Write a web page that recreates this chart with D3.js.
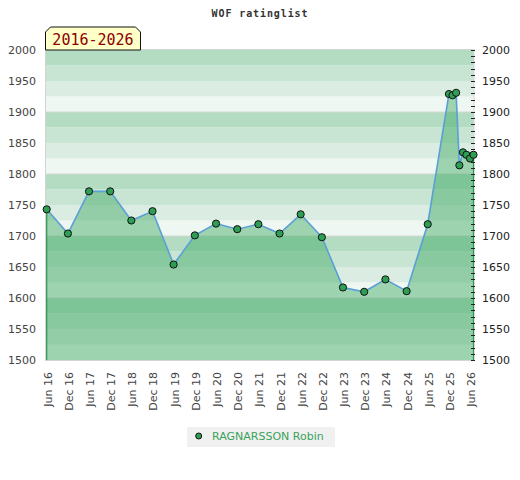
<!DOCTYPE html>
<html><head><meta charset="utf-8">
<script src="https://cdn.jsdelivr.net/npm/d3@7"></script>
<style>body{margin:0;background:#fff}svg{display:block}</style>
</head><body>
<script>
const title = "WOF ratinglist";
const periodLabel = "2016-2026";
const seriesName = "RAGNARSSON Robin";
const dates = ["2016-06","2016-12","2017-06","2017-12","2018-06","2018-12","2019-06","2019-12",
  "2020-06","2020-12","2021-06","2021-12","2022-06","2022-12","2023-06","2023-12","2024-06","2024-12",
  "2025-06","2025-12","2026-01","2026-02","2026-03","2026-04","2026-05","2026-06","2026-07"];
const ratings = [1743,1704,1772,1772,1725,1740,1654,1701,1720,1711,1719,1704,1735,1698,1617,1610,
  1630,1611,1719,1929,1927,1931,1814,1835,1831,1825,1831];
const yTicks = [1500,1550,1600,1650,1700,1750,1800,1850,1900,1950,2000];
const xTickMonths = ["2016-06","2016-12","2017-06","2017-12","2018-06","2018-12","2019-06","2019-12",
  "2020-06","2020-12","2021-06","2021-12","2022-06","2022-12","2023-06","2023-12","2024-06","2024-12",
  "2025-06","2025-12","2026-06"];
const bandColors = ["#eff7f2","#dbede2","#c8e5d3","#b3dcc3"];

(function(){
const W=520,H=480;
const parse = d3.timeParse("%Y-%m");
const data = dates.map((d,i)=>({date:parse(d), v:ratings[i]}));
const svg = d3.select("body").append("svg").attr("width",W).attr("height",H);

const pl=46, pr=473.5, pt=50, pb=360;
const x = d3.scaleTime().domain(d3.extent(data,d=>d.date)).range([pl+0.7,pr]);
const y = d3.scaleLinear().domain([1500,2000]).range([pb,pt]);

// bands
const bands = d3.range(1500,2000,25);
svg.append("g").selectAll("rect").data(bands).join("rect")
  .attr("x",pl).attr("width",pr-pl+0.5)
  .attr("y",d=>y(d+25)).attr("height",d=>y(d)-y(d+25))
  .attr("fill",d=>bandColors[((d-1500)/25)%4]);
// grid at hundreds
svg.append("g").selectAll("line").data([1600,1700,1800,1900]).join("line")
  .attr("x1",pl).attr("x2",pr).attr("y1",d=>y(d)).attr("y2",d=>y(d))
  .attr("stroke","#d8d8d8").attr("stroke-width",1);
// border
svg.append("rect").attr("x",pl-0.5).attr("y",pt-0.5).attr("width",pr-pl+1).attr("height",pb-pt+1)
  .attr("fill","none").attr("stroke","#d4d4d4");

// area
const area = d3.area().x(d=>x(d.date)).y0(y(1500)).y1(d=>y(d.v));
svg.append("path").datum(data).attr("d",area).attr("fill","rgb(65,170,102)").attr("fill-opacity",0.475);
const first=data[0], last=data[data.length-1];
[first,last].forEach(d=>{
  svg.append("line").attr("x1",x(d.date)).attr("x2",x(d.date)).attr("y1",y(d.v)).attr("y2",y(1500))
    .attr("stroke","#2f9450").attr("stroke-width",1.2);
});

// right axis minor ticks
svg.append("g").selectAll("line").data(d3.range(1500,2001,10)).join("line")
  .attr("x1",pr-2.5).attr("x2",pr+1.5).attr("y1",d=>Math.round(y(d))+0.5).attr("y2",d=>Math.round(y(d))+0.5)
  .attr("stroke","#222").attr("stroke-width",1);

// line
const line = d3.line().x(d=>x(d.date)).y(d=>y(d.v));
svg.append("path").datum(data).attr("d",line).attr("fill","none").attr("stroke","#5a9fd6").attr("stroke-width",1.6);
// points
svg.append("g").selectAll("circle").data(data).join("circle")
  .attr("cx",d=>x(d.date)).attr("cy",d=>y(d.v)).attr("r",3.6)
  .attr("fill","#2f9e55").attr("stroke","#111").attr("stroke-width",1);

// y labels
const font="DejaVu Sans, sans-serif";
svg.append("g").selectAll("text").data(yTicks).join("text")
  .attr("x",36).attr("y",d=>y(d)).attr("dy","0.36em").attr("text-anchor","end")
  .attr("font-family",font).attr("font-size",11).attr("fill","#444").text(d=>d);
svg.append("g").selectAll("text").data(yTicks).join("text")
  .attr("x",482).attr("y",d=>y(d)).attr("dy","0.36em").attr("text-anchor","start")
  .attr("font-family",font).attr("font-size",11).attr("fill","#222").text(d=>d);

// x labels
const fmt = d3.timeFormat("%b %y");
svg.append("g").selectAll("text").data(xTickMonths.map(parse)).join("text")
  .attr("transform",d=>`translate(${x(d)+1},372) rotate(-90)`)
  .attr("dy","0.36em").attr("text-anchor","end")
  .attr("font-family",font).attr("font-size",11).attr("fill","#444").text(d=>fmt(d));

// title
svg.append("text").attr("x",260).attr("y",16.5).attr("text-anchor","middle")
  .attr("font-family","DejaVu Sans Mono, monospace").attr("font-weight","bold").attr("font-size",10)
  .attr("letter-spacing",0.9).attr("fill","#333").text(title);

// period box
const bx0=45.5,bx1=140.5,by0=27,by1=50,c=5;
svg.append("path").attr("d",`M${bx0},${by1} L${bx0},${by0+c} L${bx0+c},${by0} L${bx1-c},${by0} L${bx1},${by0+c} L${bx1},${by1} Z`)
  .attr("fill","#ffffc8").attr("stroke","#111").attr("stroke-width",1);
svg.append("text").attr("x",93).attr("y",45).attr("text-anchor","middle")
  .attr("font-family","DejaVu Sans Mono, monospace").attr("font-size",15).attr("fill","#8b0000").text(periodLabel);

// legend
svg.append("rect").attr("x",187).attr("y",427).attr("width",148).attr("height",20).attr("fill","#f0f0f0");
svg.append("circle").attr("cx",198.7).attr("cy",436).attr("r",3).attr("fill","#2f9e55").attr("stroke","#111");
svg.append("text").attr("x",212).attr("y",436).attr("dy","0.36em")
  .attr("font-family",font).attr("font-size",11).attr("fill","#3aa35c").text(seriesName);
})();
</script>
</body></html>
